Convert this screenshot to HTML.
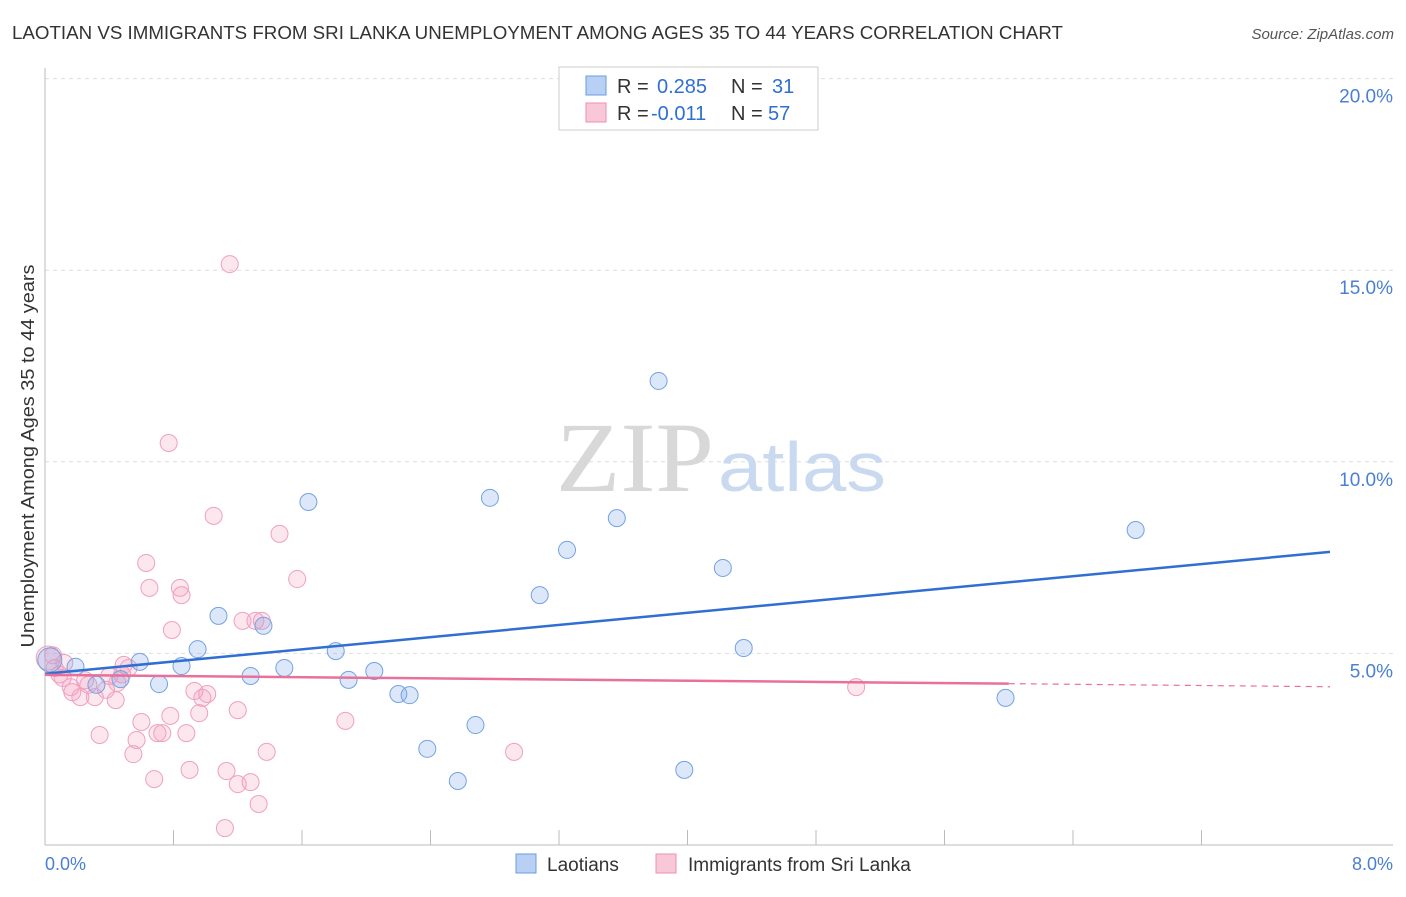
<!DOCTYPE html>
<html><head><meta charset="utf-8"><style>
body{margin:0;background:#fff;font-family:"Liberation Sans",sans-serif;}
</style></head><body>
<svg width="1406" height="892" xmlns="http://www.w3.org/2000/svg">
<text x="12" y="39" font-size="18" fill="#333" textLength="1051" lengthAdjust="spacingAndGlyphs">LAOTIAN VS IMMIGRANTS FROM SRI LANKA UNEMPLOYMENT AMONG AGES 35 TO 44 YEARS CORRELATION CHART</text>
<text x="1394" y="39" font-size="15" fill="#555" font-style="italic" text-anchor="end">Source: ZipAtlas.com</text>
<g id="grid"></g>
<text x="556" y="491" font-size="100" fill="#d8d8d8" font-family="Liberation Serif" textLength="158" lengthAdjust="spacingAndGlyphs">ZIP</text>
<text x="718" y="491" font-size="70" fill="#c9d9f0" textLength="168" lengthAdjust="spacingAndGlyphs">atlas</text>
<g id="pts"></g>
<g id="lines"></g>
<text x="34" y="456" font-size="18" fill="#333" text-anchor="middle" textLength="383" lengthAdjust="spacingAndGlyphs" transform="rotate(-90 34 456)">Unemployment Among Ages 35 to 44 years</text>
<text x="45" y="870" font-size="18" fill="#4a7fd4">0.0%</text>
<text x="1393" y="870" font-size="18" fill="#4a7fd4" text-anchor="end">8.0%</text>
<g>
<rect x="559" y="67" width="259" height="63" fill="#fff" stroke="#ccc"/>
<rect x="586" y="76" width="20" height="19" fill="#b8d0f4" stroke="#6a9be0"/>
<rect x="586" y="103" width="20" height="19" fill="#f9c8d8" stroke="#ee8fb0"/>
<text y="93" font-size="20" fill="#333"><tspan x="617">R =</tspan><tspan x="657" fill="#2f6fd1">0.285</tspan><tspan x="731">N =</tspan><tspan x="772" fill="#2f6fd1">31</tspan></text>
<text y="120" font-size="20" fill="#333"><tspan x="617">R =</tspan><tspan x="651" fill="#2f6fd1">-0.011</tspan><tspan x="731">N =</tspan><tspan x="768" fill="#2f6fd1">57</tspan></text>
</g>
<g>
<rect x="516" y="854" width="20" height="19" fill="#b8d0f4" stroke="#6a9be0"/>
<text x="547" y="871" font-size="19" fill="#333">Laotians</text>
<rect x="656" y="854" width="20" height="19" fill="#f9c8d8" stroke="#ee8fb0"/>
<text x="688" y="871" font-size="19" fill="#333">Immigrants from Sri Lanka</text>
</g>
</svg>
<script>
const yTicks=[5,10,15,20];
const yTickLabels=["5.0%","10.0%","15.0%","20.0%"];
const blueX=[0.03,0.19,0.32,0.47,0.59,0.71,0.85,0.95,1.08,1.28,1.36,1.49,1.64,1.81,1.89,2.05,2.20,2.27,2.38,2.57,2.68,2.77,3.08,3.25,3.56,3.82,3.98,4.22,4.35,5.98,6.79];
const blueY=[4.83,4.65,4.18,4.33,4.78,4.20,4.67,5.11,5.98,4.41,5.72,4.62,8.95,5.06,4.31,4.54,3.94,3.91,2.51,1.67,3.13,9.06,6.52,7.70,8.53,12.11,1.96,7.23,5.14,3.84,8.22];
const pinkX=[0.02,0.06,0.11,0.16,0.17,0.22,0.27,0.31,0.34,0.40,0.44,0.45,0.49,0.52,0.55,0.57,0.60,0.63,0.65,0.68,0.70,0.73,0.77,0.78,0.79,0.84,0.85,0.88,0.90,0.93,0.96,0.98,1.01,1.05,1.12,1.13,1.15,1.20,1.20,1.23,1.28,1.31,1.33,1.35,1.38,1.46,1.57,1.87,2.92,5.05,0.09,0.25,0.38,0.12,0.48,0.05];
const pinkY=[4.88,4.62,4.36,4.12,3.99,3.86,4.18,3.86,2.87,4.41,3.78,4.23,4.70,4.62,2.37,2.74,3.21,7.36,6.71,1.72,2.92,2.92,10.49,3.37,5.61,6.71,6.52,2.92,1.96,4.02,3.44,3.84,3.94,8.59,0.44,1.93,15.16,3.52,1.59,5.85,1.64,5.85,1.07,5.85,2.43,8.12,6.94,3.24,2.43,4.12,4.45,4.30,4.05,4.75,4.45,4.95];
const blueTrend=[[0,4.47],[8,7.65]];
const pinkTrend=[[0,4.44],[6,4.21],[8,4.13]];
const NS="http://www.w3.org/2000/svg";
const sx=v=>45+v/8*1285, sy=v=>845-v*38.32;
function mk(tag,attrs,parent){const e=document.createElementNS(NS,tag);for(const k in attrs)e.setAttribute(k,attrs[k]);parent.appendChild(e);return e;}
const grid=document.getElementById('grid');
yTicks.forEach((t,i)=>{
  const l=mk('line',{x1:45,x2:1393,y1:sy(t),y2:sy(t),stroke:'#ddd','stroke-dasharray':'4,4'},grid);
  
  
  const tx=mk('text',{x:1393,y:sy(t)+24,'font-size':19,fill:'#4a7fd4','text-anchor':'end'},grid);
  tx.textContent=yTickLabels[i];
  
  
});
const ax=mk('line',{x1:45,x2:45,y1:68,y2:845,stroke:'#bbb'},grid);


const bx=mk('line',{x1:45,x2:1393,y1:845,y2:845,stroke:'#bbb'},grid);


for(let i=1;i<=9;i++){const t=mk('line',{x1:45+i*128.5,x2:45+i*128.5,y1:830,y2:845,stroke:'#bbb'},grid);
  
  }
const pts=document.getElementById('pts');
pinkX.forEach((x,i)=>{const c=mk('circle',{cx:sx(x),cy:sy(pinkY[i]),r:(i==0?12:8.5),fill:'rgba(245,160,190,0.25)',stroke:'#f0a0bc','stroke-width':1},pts);
  
  });
blueX.forEach((x,i)=>{const c=mk('circle',{cx:sx(x),cy:sy(blueY[i]),r:(i==0?12:8.5),fill:'rgba(130,170,235,0.28)',stroke:'#74a2e2','stroke-width':1},pts);
  
  });
const lines=document.getElementById('lines');
const bl=mk('line',{x1:sx(blueTrend[0][0]),y1:sy(blueTrend[0][1]),x2:sx(blueTrend[1][0]),y2:sy(blueTrend[1][1]),stroke:'#2f6fd1','stroke-width':2.5},lines);


const pl=mk('line',{x1:sx(pinkTrend[0][0]),y1:sy(pinkTrend[0][1]),x2:sx(pinkTrend[1][0]),y2:sy(pinkTrend[1][1]),stroke:'#e8709a','stroke-width':2.5},lines);


const pd=mk('line',{x1:sx(pinkTrend[1][0]),y1:sy(pinkTrend[1][1]),x2:sx(pinkTrend[2][0]),y2:sy(pinkTrend[2][1]),stroke:'#e8709a','stroke-width':1.2,'stroke-dasharray':'6,5'},lines);


</script>
</body></html>
